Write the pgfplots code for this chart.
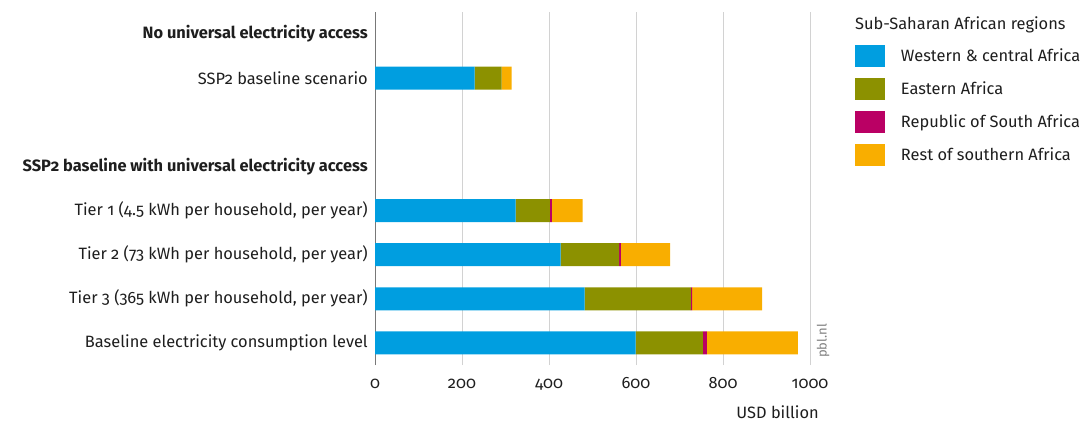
\documentclass[border=0pt]{standalone}
\usepackage{fontspec}
\setmainfont{Fira Sans}[Numbers=OldStyle]
\usepackage{pgfplots}
\pgfplotsset{compat=1.18}
\definecolor{cblue}{RGB}{0,158,224}
\definecolor{colive}{RGB}{140,145,0}
\definecolor{cmag}{RGB}{186,0,100}
\definecolor{corange}{RGB}{249,174,0}
\definecolor{gridgray}{RGB}{210,210,210}
\definecolor{axgray}{RGB}{120,120,120}
\definecolor{txt}{RGB}{30,30,30}
\begin{document}
\fontsize{16.4}{19}\selectfont
\begin{tikzpicture}
\path (0pt,0pt) rectangle (1086pt,423pt);
\begin{axis}[
  at={(375pt,58pt)}, anchor=south west,
  scale only axis, width=435pt, height=353pt,
  xbar stacked, bar width=23pt,
  xmin=0, xmax=1000, ymin=-0.5, ymax=7.5,
  axis x line*=bottom, axis y line*=left,
  x axis line style={draw=none},
  y axis line style={axgray, line width=1pt, -},
  xmajorgrids, grid style={gridgray, line width=0.8pt},
  xtick={0,200,400,600,800,1000},
  xtick style={draw=none}, ytick style={draw=none},
  /pgf/number format/assume math mode=true,
  /pgf/number format/1000 sep={},
  scaled x ticks=false,
  xticklabel style={anchor=base, inner sep=0pt, yshift=-23pt, text=txt},
  ytick={0,1,2,3,4,6,7},
  yticklabels={Baseline electricity consumption level,
    {Tier 3 (365 kWh per household, per year)},
    {Tier 2 (73 kWh per household, per year)},
    {Tier 1 (4.5 kWh per household, per year)},
    \textbf{SSP2 baseline with universal electricity access},
    SSP2 baseline scenario,
    \textbf{No universal electricity access}},
  yticklabel style={anchor=east, inner sep=0pt, xshift=-7pt, text=txt},
  xlabel={USD billion},
  xlabel style={at={(rel axis cs:1,0)}, anchor=base east, inner sep=0pt, xshift=9pt, yshift=-53pt, text=txt},
  legend style={at={(axis description cs:1.1034,0.9065)}, anchor=north west,
    draw=none, fill=none, inner sep=0pt, outer sep=0pt,
    nodes={inner sep=0pt, text=txt},
    column sep=16pt, row sep=11pt},
  legend cell align=left,
  legend image code/.code={\fill[#1] (0pt,-11pt) rectangle (30pt,11pt);},
  clip=false,
]
\addplot[fill=cblue, draw=none] coordinates {(229,6) (323,3) (427,2) (482,1) (599,0)};
\addplot[fill=colive, draw=none] coordinates {(62,6) (79,3) (134,2) (244,1) (155,0)};
\addplot[fill=cmag, draw=none] coordinates {(0,6) (4.5,3) (4.5,2) (3,1) (9,0)};
\addplot[fill=corange, draw=none] coordinates {(23,6) (71,3) (113,2) (161,1) (209,0)};
\legend{Western \& central Africa, Eastern Africa, Republic of South Africa, Rest of southern Africa}
\node[anchor=base west, inner sep=0pt, text=txt] at (rel axis cs:1,1) [xshift=45pt, yshift=-17pt] {Sub-Saharan African regions};
\node[rotate=90, anchor=west, inner sep=0pt, text=gray, font=\fontsize{13}{15}\selectfont] at (axis description cs:1.0299,0.02) {pbl.nl};
\end{axis}
\end{tikzpicture}
\end{document}
